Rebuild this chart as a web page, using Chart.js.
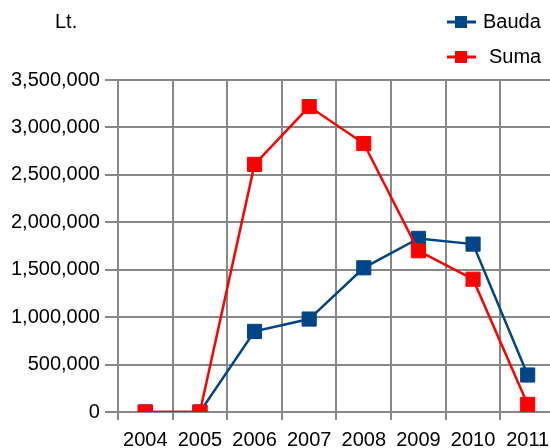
<!DOCTYPE html>
<html>
<head>
<meta charset="utf-8">
<script src="https://cdn.jsdelivr.net/npm/chart.js@4.4.1/dist/chart.umd.min.js"></script>
<style>
    html, body { margin: 0; padding: 0; background: #ffffff; overflow: hidden; }
    #kontas { position: relative; width: 566px; height: 448px; }
</style>
</head>
<body>
<div id="kontas"><canvas id="grafikas"></canvas></div>
<script>
// metai ir reiksmes
var metai = ['2004', '2005', '2006', '2007', '2008', '2009', '2010', '2011'];
var bauda = [0, 0, 850000, 980000, 1520000, 1830000, 1770000, 390000];
var suma = [0, 0, 2610000, 3220000, 2830000, 1700000, 1400000, 80000];
var serijuPavadinimai = ['Bauda', 'Suma'];
var asiesPavadinimas = 'Lt.';

var pilka = '#888888';
var sriftas = 'Liberation Sans, Arial, sans-serif';

// legenda ir "Lt." uzrasas virsuje
const legendaPlugin = {
    id: 'legendaPlugin',
    afterDraw(chart) {
        const ctx = chart.ctx;
        ctx.save();
        ctx.font = '20px ' + sriftas;
        ctx.fillStyle = '#000000';
        ctx.textBaseline = 'middle';
        ctx.textAlign = 'left';
        ctx.fillText(asiesPavadinimas, 55, 22);

        let eilutes = [
            { ds: chart.data.datasets[0], y: 22, tekstoX: 483 },
            { ds: chart.data.datasets[1], y: 57, tekstoX: 489 }
        ];
        eilutes.forEach(function (e) {
            ctx.strokeStyle = e.ds.borderColor;
            ctx.lineWidth = 3;
            ctx.beginPath();
            ctx.moveTo(447, e.y);
            ctx.lineTo(476, e.y);
            ctx.stroke();
            ctx.fillStyle = e.ds.borderColor;
            ctx.fillRect(455, e.y - 6, 12, 12);
            ctx.fillStyle = '#000000';
            ctx.fillText(e.ds.label, e.tekstoX, e.y);
        });
        ctx.restore();
    }
};

let grafikas = new Chart(document.getElementById('grafikas'), {
    type: 'line',
    data: {
        labels: metai,
        datasets: [{
            label: serijuPavadinimai[0],
            data: bauda,
            borderColor: '#004586',
            backgroundColor: '#004586',
            borderWidth: 2.5,
            pointStyle: 'rect',
            pointRadius: 10,
            pointBorderWidth: 1,
            tension: 0,
            order: 2
        }, {
            label: serijuPavadinimai[1],
            data: suma,
            borderColor: '#ff0000',
            backgroundColor: '#ff0000',
            borderWidth: 2.5,
            pointStyle: 'rect',
            pointRadius: 10,
            pointBorderWidth: 1,
            tension: 0,
            order: 1
        }]
    },
    options: {
        responsive: true,
        maintainAspectRatio: false,
        animation: false,
        layout: {
            padding: { top: 80, left: 6, right: 2, bottom: -12 }
        },
        plugins: {
            legend: { display: false },
            tooltip: { enabled: false }
        },
        scales: {
            x: {
                offset: true,
                grid: {
                    offset: true,
                    color: pilka,
                    lineWidth: 2,
                    tickLength: 8
                },
                border: { color: pilka, width: 2 },
                ticks: {
                    color: '#000000',
                    font: { family: sriftas, size: 20 },
                    padding: 8,
                    maxRotation: 0,
                    autoSkip: false
                }
            },
            y: {
                min: 0,
                max: 3500000,
                grid: {
                    color: pilka,
                    lineWidth: 2,
                    tickLength: 13
                },
                border: { color: pilka, width: 2 },
                ticks: {
                    stepSize: 500000,
                    color: '#000000',
                    font: { family: sriftas, size: 20 },
                    padding: 5,
                    callback: function (v) {
                        return v.toLocaleString('en-US');
                    }
                }
            }
        }
    },
    plugins: [legendaPlugin]
});
</script>
</body>
</html>
